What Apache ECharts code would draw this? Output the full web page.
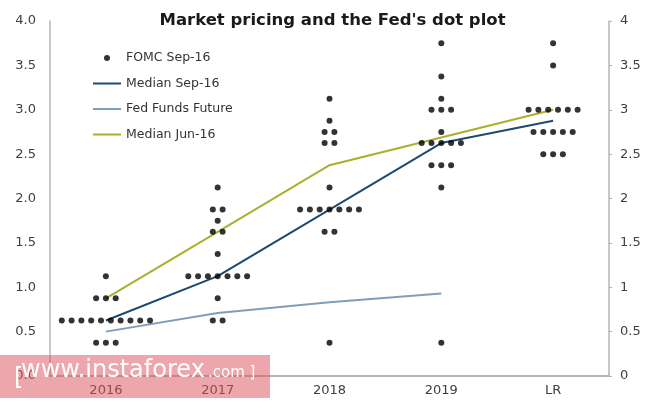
<!DOCTYPE html>
<html>
<head>
<meta charset="utf-8">
<script src="https://cdn.jsdelivr.net/npm/echarts@6/dist/echarts.min.js"></script>
<style>
html,body{margin:0;padding:0;background:#fff;}
#main{width:665px;height:402px;}
</style>
</head>
<body>
<div id="main"></div>
<script>
var categories = ['2016', '2017', '2018', '2019', 'LR'];

// FOMC Sep-16 dots: [rate, number of participants]
var fomc2016 = [[1.125, 1], [0.875, 3], [0.625, 10], [0.375, 3]];
var fomc2017 = [[2.125, 1], [1.875, 2], [1.75, 1], [1.625, 2], [1.375, 1], [1.125, 7], [0.875, 1], [0.625, 2]];
var fomc2018 = [[3.125, 1], [2.875, 1], [2.75, 2], [2.625, 2], [2.125, 1], [1.875, 7], [1.625, 2], [0.375, 1]];
var fomc2019 = [[3.75, 1], [3.375, 1], [3.125, 1], [3.0, 3], [2.75, 1], [2.625, 5], [2.375, 3], [2.125, 1], [0.375, 1]];
var fomcLR = [[3.75, 1], [3.5, 1], [3.0, 6], [2.75, 5], [2.5, 3]];

var medianSep16 = [0.625, 1.125, 1.875, 2.625, 2.875];
var fedFundsFuture = [0.5, 0.71, 0.83, 0.93, null];
var medianJun16 = [0.875, 1.625, 2.375, null, 3.0];

var leftTicks = ['0.0', '0.5', '1.0', '1.5', '2.0', '2.5', '3.0', '3.5', '4.0'];

var font = 'DejaVu Sans';
var dotStep = 0.0877;
var axisColor = '#b4b4b4';

// spread each row of dots side by side around its category
var dots = [];
[fomc2016, fomc2017, fomc2018, fomc2019, fomcLR].forEach(function (rows, ci) {
    rows.forEach(function (r) {
        for (var k = 0; k < r[1]; k++) {
            dots.push([ci + (k - (r[1] - 1) / 2) * dotStep, r[0]]);
        }
    });
});

var legendText = {fontFamily: font, fontSize: 12.5, color: '#333', lineHeight: 16};

var myChart = echarts.init(document.getElementById('main'));

var option = {
    backgroundColor: '#fff',
    animation: false,
    title: {
        text: "Market pricing and the Fed's dot plot",
        left: 'center',
        top: 7,
        textStyle: {fontFamily: font, fontSize: 16.5, fontWeight: 'bold', color: '#1a1a1a'}
    },
    legend: [{
        orient: 'vertical',
        left: 104,
        top: 50,
        padding: 0,
        itemWidth: 28,
        itemHeight: 6,
        textStyle: legendText,
        data: [{name: 'FOMC Sep-16', icon: 'circle'}]
    }, {
        orient: 'vertical',
        left: 93,
        top: 75.5,
        padding: 0,
        itemWidth: 28,
        itemHeight: 2,
        itemGap: 9.5,
        icon: 'rect',
        textStyle: legendText,
        data: ['Median Sep-16', 'Fed Funds Future', 'Median Jun-16']
    }],
    grid: {left: 50, right: 56, top: 21, bottom: 26},
    xAxis: [{
        type: 'category',
        position: 'bottom',
        data: categories,
        boundaryGap: true,
        axisLine: {show: true, onZero: false, lineStyle: {color: axisColor, width: 2}},
        axisTick: {show: false},
        axisLabel: {fontFamily: font, fontSize: 13, color: '#404040', margin: 8},
        splitLine: {show: false}
    }, {
        type: 'value',
        position: 'top',
        min: -0.5,
        max: 4.5,
        show: false
    }],
    yAxis: [{
        type: 'value',
        min: 0,
        max: 4,
        interval: 0.5,
        axisLine: {show: true, onZero: false, lineStyle: {color: axisColor, width: 1.5}},
        axisTick: {show: false},
        splitLine: {show: false},
        axisLabel: {
            fontFamily: font, fontSize: 13, color: '#404040', margin: 14,
            formatter: function (v) { return leftTicks[Math.round(v * 2)]; }
        }
    }, {
        type: 'value',
        position: 'right',
        min: 0,
        max: 4,
        interval: 0.5,
        axisLine: {show: true, onZero: false, lineStyle: {color: axisColor, width: 1.5}},
        axisTick: {show: true, length: 3, lineStyle: {color: axisColor}},
        splitLine: {show: false},
        axisLabel: {fontFamily: font, fontSize: 13, color: '#404040', margin: 11}
    }],
    series: [{
        name: 'FOMC Sep-16',
        type: 'scatter',
        xAxisIndex: 1,
        yAxisIndex: 0,
        symbolSize: 6,
        itemStyle: {color: '#000'},
        data: dots,
        z: 5
    }, {
        name: 'Median Sep-16',
        type: 'line',
        symbol: 'none',
        lineStyle: {color: '#1c4a70', width: 2},
        itemStyle: {color: '#1c4a70'},
        data: medianSep16,
        // base line at zero, in case the category axis line is not drawn
        markLine: {
            silent: true,
            symbol: 'none',
            label: {show: false},
            lineStyle: {color: axisColor, width: 1.5, type: 'solid'},
            data: [{yAxis: 0}]
        }
    }, {
        name: 'Fed Funds Future',
        type: 'line',
        symbol: 'none',
        lineStyle: {color: '#7f9ebb', width: 2},
        itemStyle: {color: '#7f9ebb'},
        data: fedFundsFuture
    }, {
        name: 'Median Jun-16',
        type: 'line',
        symbol: 'none',
        connectNulls: true,
        lineStyle: {color: '#a9b02c', width: 2},
        itemStyle: {color: '#a9b02c'},
        data: medianJun16
    }],
    graphic: [{
        type: 'rect',
        z: 100,
        shape: {x: 0, y: 355, width: 270, height: 43},
        style: {fill: 'rgba(220, 85, 95, 0.52)'}
    }, {
        type: 'text', z: 101, x: 14, y: 379,
        style: {text: '[', fill: '#fff', fontFamily: font, fontSize: 24, verticalAlign: 'middle'}
    }, {
        type: 'text', z: 101, x: 21, y: 371,
        style: {text: 'www.instaforex', fill: '#fff', fontFamily: font, fontSize: 24, verticalAlign: 'middle'}
    }, {
        type: 'text', z: 101, x: 208, y: 373,
        style: {text: '.com ]', fill: '#fff', fontFamily: font, fontSize: 15, verticalAlign: 'middle'}
    }]
};
myChart.setOption(option);
</script>
</body>
</html>
